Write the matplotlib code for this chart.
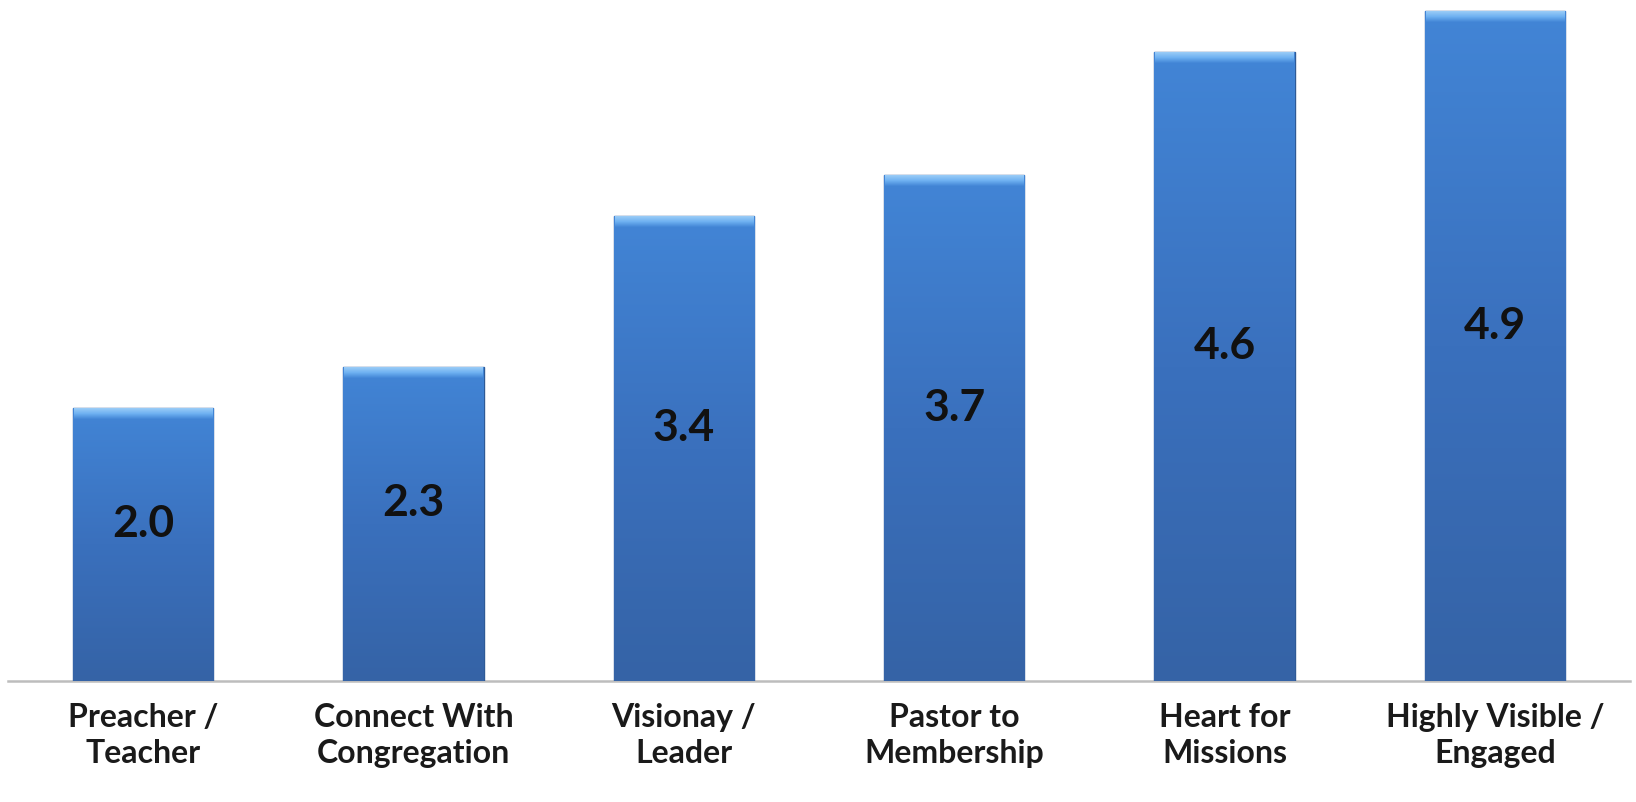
import matplotlib
matplotlib.use("Agg")
import matplotlib.pyplot as plt
import numpy as np
from matplotlib.colors import LinearSegmentedColormap

categories = ["Preacher /\nTeacher", "Connect With\nCongregation", "Visionay /\nLeader",
              "Pastor to\nMembership", "Heart for\nMissions", "Highly Visible /\nEngaged"]
values = [2.0, 2.3, 3.4, 3.7, 4.6, 4.9]
labels = ["2.0", "2.3", "3.4", "3.7", "4.6", "4.9"]

fig = plt.figure(figsize=(16.36, 8.02), dpi=100)
ax = fig.add_axes([0.0049, 0.1509, 0.9914, 0.8437])

x = np.arange(len(values))
bars = ax.bar(x, values, width=0.52, color="#3b72c0", edgecolor="#2e5a96", linewidth=1.0, zorder=2)

# vertical gradient inside each bar
grad = LinearSegmentedColormap.from_list("g", ["#3563a6", "#3a70bd", "#4285d6"])
img = np.linspace(0, 1, 256).reshape(-1, 1)
bevel = LinearSegmentedColormap.from_list("b", ["#4285d6", "#6fb2f2", "#9ccdf7"])
for b, v in zip(bars, values):
    x0 = b.get_x()
    w = b.get_width()
    im = ax.imshow(img, cmap=grad, origin="lower", aspect="auto",
                   extent=[x0, x0 + w, 0, v], zorder=2.5)
    im.set_clip_path(b)
    # light bevel on top
    ax.imshow(img, cmap=bevel, origin="lower", aspect="auto",
              extent=[x0 + 0.004, x0 + w - 0.004, v - 0.08, v - 0.005], zorder=2.6)

for xi, v, t in zip(x, values, labels):
    ax.text(xi, v / 2 + 0.15, t, ha="center", va="center", fontsize=32,
            fontweight="bold", family="Lato", color="#111111", zorder=3)

ax.set_xlim(-0.5, len(values) - 0.5)
ax.set_ylim(0, 4.95)
ax.set_yticks([])
ax.set_xticks(x)
ax.set_xticklabels(categories, fontsize=23, fontweight="bold", family="Lato",
                   color="#1a1a1a", linespacing=1.3)
ax.tick_params(axis="x", length=0, pad=16)
for s in ["top", "right", "left"]:
    ax.spines[s].set_visible(False)
ax.spines["bottom"].set_color("#bdbdbd")
ax.spines["bottom"].set_linewidth(1.8)
ax.spines["bottom"].set_zorder(1)

fig.savefig("out.png", dpi=100)
